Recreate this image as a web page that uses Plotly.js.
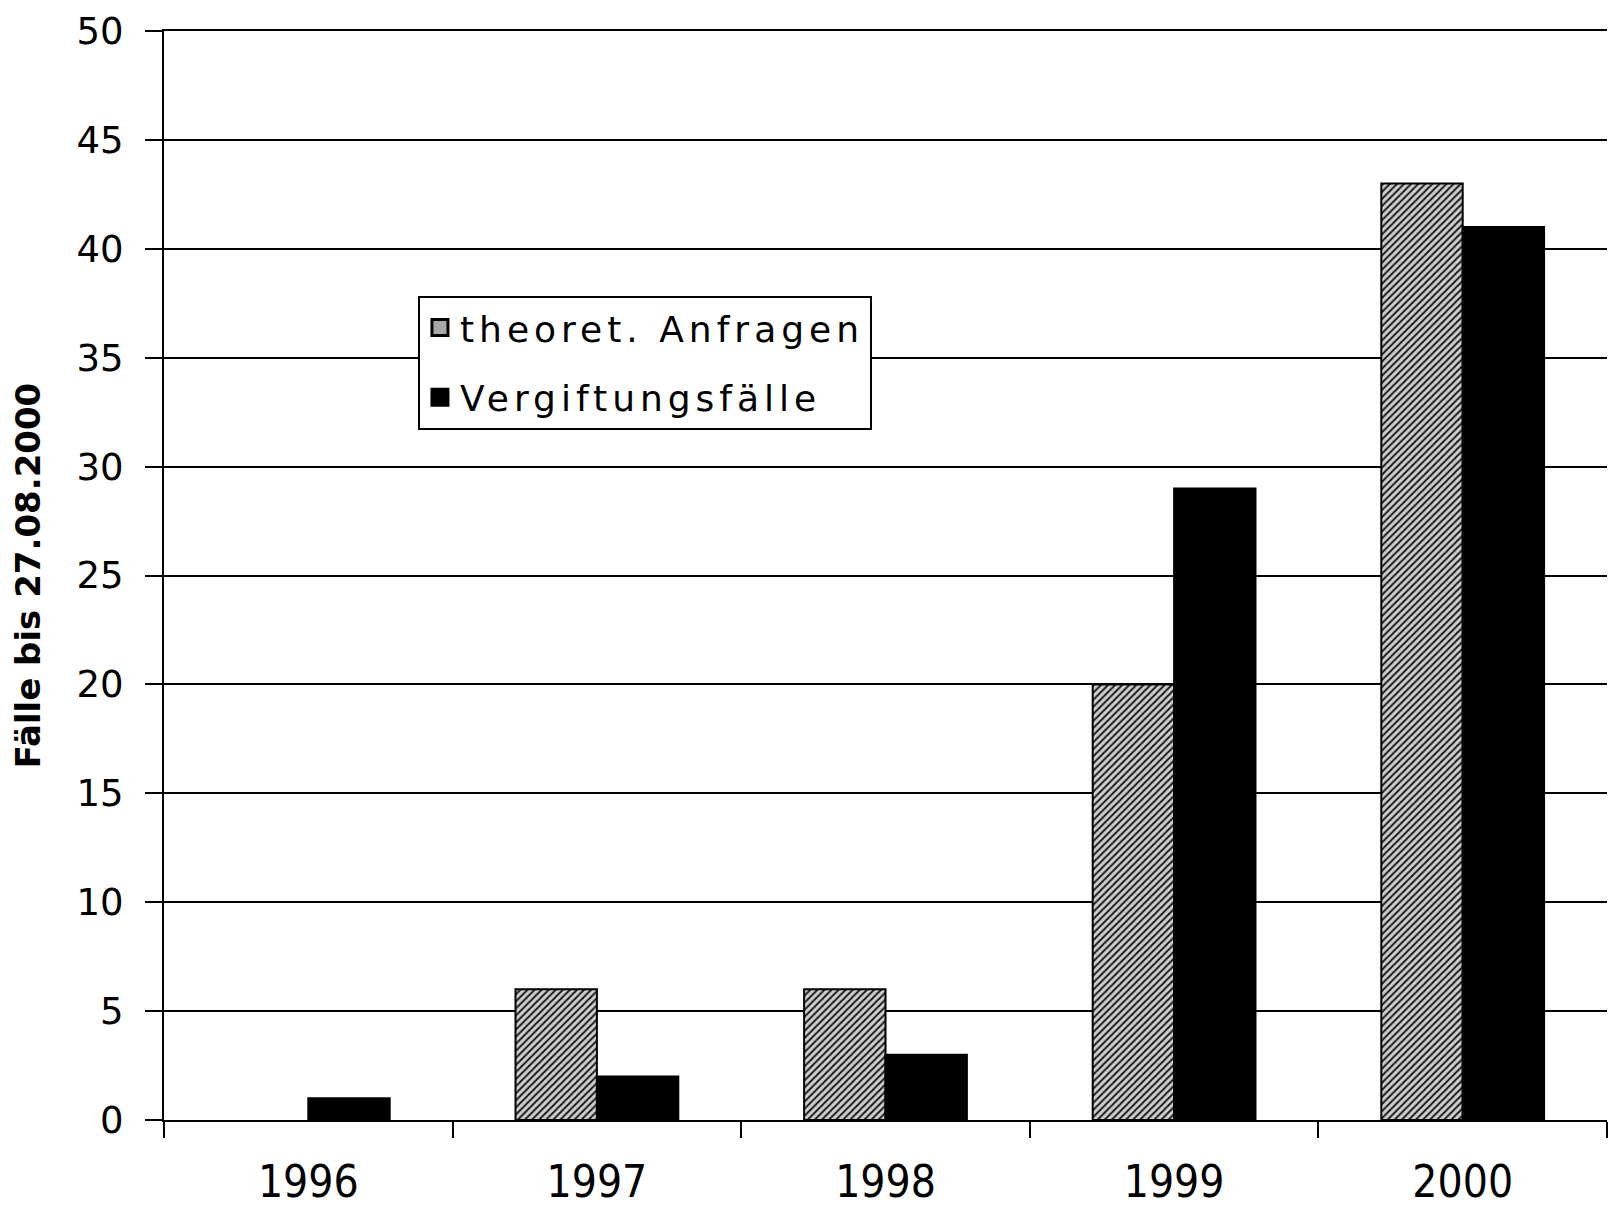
<!DOCTYPE html>
<html>
<head>
<meta charset="utf-8">
<script src="https://cdn.plot.ly/plotly-3.0.1.min.js"></script>
<style>
html,body{margin:0;padding:0;background:#fff;}
.legendtext{letter-spacing:5px;}
</style>
</head>
<body>
<div id="chart" style="width:1617px;height:1209px;"></div>
<script>
var years = ["1996", "1997", "1998", "1999", "2000"];
var theoretAnfragen = [0, 6, 6, 20, 43];
var vergiftungsfaelle = [1, 2, 3, 29, 41];
var seriesNames = ["theoret. Anfragen", "Vergiftungsfälle"];
var yTicks = [0, 5, 10, 15, 20, 25, 30, 35, 40, 45, 50];
var yTitle = "Fälle bis 27.08.2000";

// no outline on empty (zero-height) bars
var outlineWidth = function (vals) { return vals.map(function (v) { return v === 0 ? 0 : 2; }); };

var traces = [
  {
    type: "bar", x: years, y: theoretAnfragen, name: seriesNames[0], showlegend: false,
    marker: {
      color: "#c8c8c8",
      line: {color: "#000", width: outlineWidth(theoretAnfragen)},
      pattern: {shape: "/", fgcolor: "#1a1a1a", bgcolor: "#cfcfcf", size: 5, solidity: 0.4}
    }
  },
  {
    type: "bar", x: years, y: vergiftungsfaelle, name: seriesNames[1], showlegend: false,
    marker: {color: "#000", line: {color: "#000", width: outlineWidth(vergiftungsfaelle)}}
  },
  {
    type: "scatter", mode: "markers", x: [years[0]], y: [null], name: seriesNames[0],
    legendgroup: "a", hoverinfo: "skip",
    marker: {symbol: "square", size: 16, color: "#a8a8a8", line: {color: "#000", width: 3}}
  },
  {
    type: "scatter", mode: "markers", x: [years[0]], y: [null], name: seriesNames[1],
    legendgroup: "b", hoverinfo: "skip",
    marker: {symbol: "square", size: 16, color: "#000", line: {color: "#000", width: 3}}
  }
];

var layout = {
  width: 1617, height: 1209,
  margin: {l: 164, r: 10, t: 31, b: 89},
  paper_bgcolor: "#fff", plot_bgcolor: "#fff",
  barmode: "group", bargap: 0.436, bargroupgap: 0,
  showlegend: true,
  legend: {
    x: 0.176, y: 0.757, xanchor: "left", yanchor: "top",
    bgcolor: "#fff", bordercolor: "#000", borderwidth: 2,
    font: {family: "DejaVu Sans", size: 36, color: "#000"},
    traceorder: "grouped", tracegroupgap: 20, itemwidth: 30
  },
  xaxis: {
    type: "category",
    showgrid: false, zeroline: false,
    showline: true, mirror: true, linecolor: "#000", linewidth: 2,
    ticks: "outside", tickson: "boundaries", ticklen: 16, tickwidth: 2, tickcolor: "#000",
    tickfont: {family: "DejaVu Sans Condensed, DejaVu Sans", size: 44, color: "#000"},
    ticklabelstandoff: 22
  },
  yaxis: {
    range: [0, 50], tickvals: yTicks, ticktext: yTicks.map(String),
    showgrid: true, gridcolor: "#000", gridwidth: 2,
    zeroline: false,
    showline: true, linecolor: "#000", linewidth: 2,
    ticks: "outside", ticklen: 17, tickwidth: 2, tickcolor: "#000",
    tickfont: {family: "DejaVu Sans", size: 37, color: "#000"},
    ticklabelstandoff: 14,
    title: {text: "<b>" + yTitle + "</b>", font: {family: "DejaVu Sans", size: 34, color: "#000"}, standoff: 26}
  }
};

Plotly.newPlot("chart", traces, layout, {displayModeBar: false, staticPlot: true});
</script>
</body>
</html>
